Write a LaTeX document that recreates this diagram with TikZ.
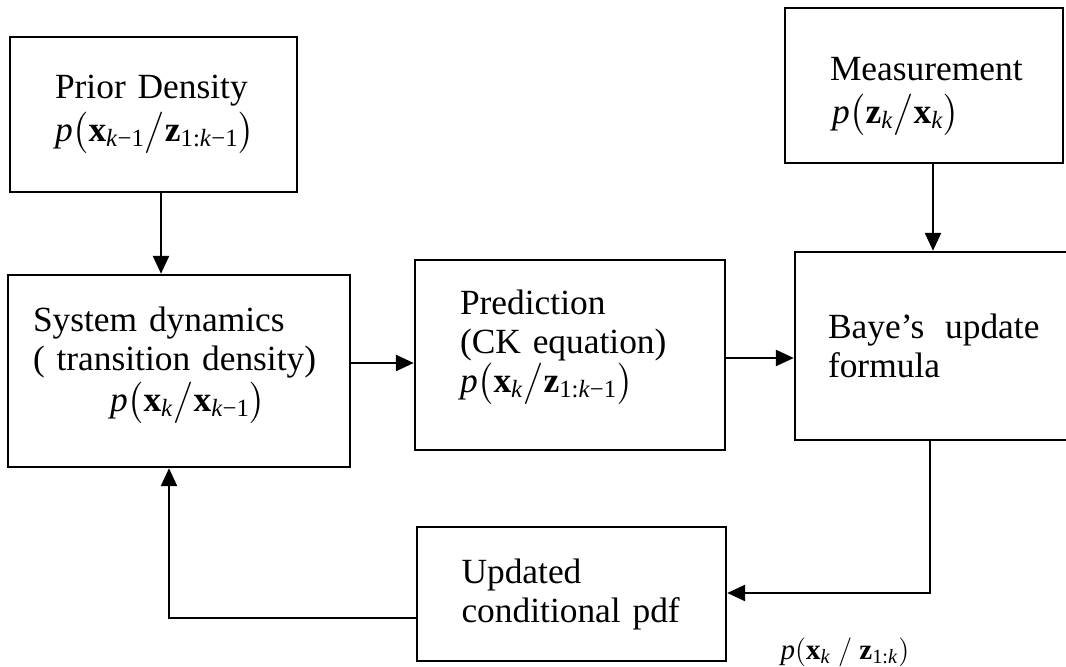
\documentclass[tikz,border=0pt]{standalone}
\usepackage{fontspec}
\usepackage{amsmath}
\setmainfont{Liberation Serif}
\usetikzlibrary{arrows.meta}

% bold state vectors, italic time index, text subscripts
\newcommand\vx{\textbf{x}}
\newcommand\vz{\textbf{z}}
\newcommand\kk{\textit{k}}
\newcommand\sbt[1]{_{\text{#1}}}
% invisible strut that deepens the last line of a block
\newcommand\deep[1]{\rule[-#1]{0pt}{1pt}}

\begin{document}
\begin{tikzpicture}[x=0.5pt,y=-0.5pt,
  box/.style={draw, line width=1.2pt, inner sep=0pt, align=left,
              font=\fontsize{17.7}{19.5}\selectfont},
  flow/.style={line width=1.2pt, -{Triangle[length=9pt,width=8pt]}},
  note/.style={inner sep=0pt, font=\fontsize{14.5}{16}\selectfont}]

\useasboundingbox (0,0) rectangle (1066,667);
\clip (0,0) rectangle (1066,667);

% blocks
\node[box, minimum width=143.5pt, minimum height=77.5pt, text width=98.5pt]
  (prior) at (153.5,114.5)
  {\mbox{Prior Density}\\[2pt]
   \mbox{$\textit{p}\bigl(\vx\sbt{\kk−1}\big/\vz\sbt{1:\kk−1}\bigr)$}};

\node[box, minimum width=171pt, minimum height=96pt, text width=146pt]
  (system) at (179,371)
  {\mbox{System dynamics}\\
   \mbox{( transition density)}\\[1pt]
   \mbox{\hspace*{38.5pt}$\textit{p}\bigl(\vx\sbt{\kk}\big/\vx\sbt{\kk−1}\bigr)$\deep{12pt}}};

\node[box, minimum width=155pt, minimum height=95pt, text width=110pt]
  (predict) at (570,355)
  {\mbox{Prediction}\\
   \mbox{(CK equation)}\\
   \mbox{$\textit{p}\bigl(\vx\sbt{\kk}\big/\vz\sbt{1:\kk−1}\bigr)$\deep{14pt}}};

\node[box, minimum width=139pt, minimum height=77.5pt, text width=94pt]
  (meas) at (924,85.5)
  {\vspace*{3pt}
   \mbox{Measurement}\\[2pt]
   \mbox{\hspace*{1pt}$\textit{p}\bigl(\vz\sbt{\kk}\big/\vx\sbt{\kk}\bigr)$}};

\node[box, minimum width=137pt, minimum height=94pt, text width=104pt]
  (bayes) at (932,346)
  {\mbox{Baye’s\hspace{4.5pt} update}\\
   \mbox{formula}};

\node[box, minimum width=154.5pt, minimum height=67pt, text width=110pt]
  (updated) at (571.5,594)
  {\mbox{Updated}\\
   \mbox{conditional pdf}};

\node[note] (post) at (845,652)
  {$\textit{p}(\vx\sbt{\kk}\ /\ \vz\sbt{1:\kk})$};

% connector routing points
\coordinate (c1) at (161,0);
\coordinate (r1) at (0,363);
\coordinate (r2) at (0,358);
\coordinate (c3) at (933,0);
\coordinate (c4) at (930,0);
\coordinate (r4) at (0,593);
\coordinate (r5) at (0,618);
\coordinate (c5) at (169,0);

% connectors
\draw[flow] (prior.south -| c1) -- (system.north -| c1);
\draw[flow] (system.east |- r1) -- (predict.west |- r1);
\draw[flow] (predict.east |- r2) -- (bayes.west |- r2);
\draw[flow] (meas.south -| c3) -- (bayes.north -| c3);
\draw[flow] (bayes.south -| c4) |- (updated.east |- r4);
\draw[flow] (updated.west |- r5) -| (system.south -| c5);

\end{tikzpicture}
\end{document}
